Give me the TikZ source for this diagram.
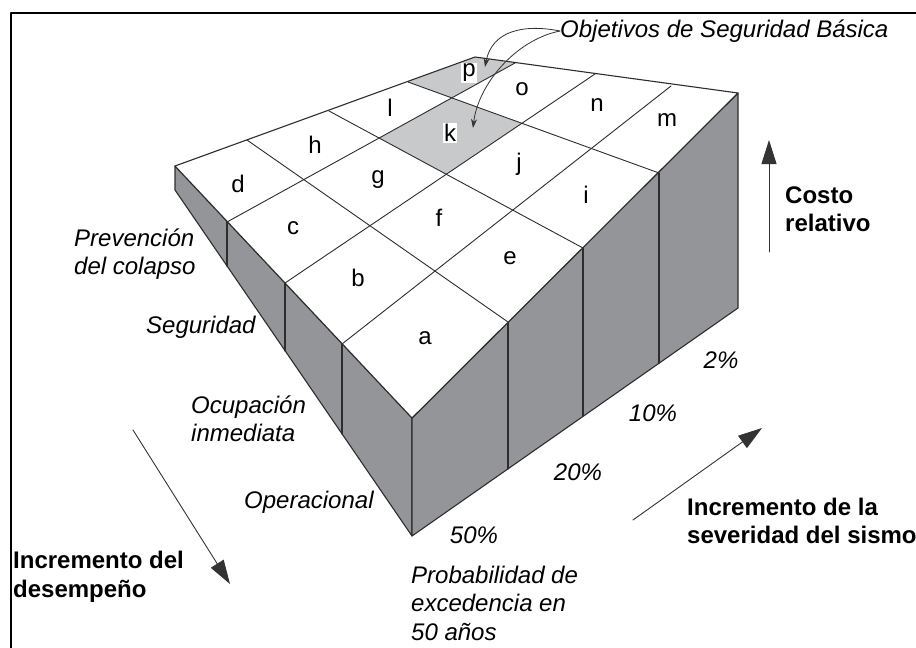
\documentclass[tikz,border=0pt]{standalone}
\usepackage{fontspec}
\setmainfont{Liberation Sans}
\usetikzlibrary{arrows.meta}
\definecolor{facegray}{RGB}{148,149,152}
\definecolor{cellgray}{RGB}{200,201,203}
\definecolor{edgegray}{RGB}{45,45,45}
\begin{document}
\begin{tikzpicture}[x=1pt, y=-1pt, line join=round, line cap=round, font=\fontsize{24}{28.5}\selectfont]
	\tikzset{
		edge/.style={draw=edgegray, line width=1.1pt},
		face/.style={edge, fill=facegray},
		cellname/.style={inner sep=1pt},
		level/.style={font=\fontsize{24}{28.5}\selectfont\itshape, inner sep=0pt, anchor=west, align=left},
		title/.style={font=\fontsize{24}{28.5}\selectfont\bfseries, inner sep=0pt, anchor=west, align=left},
		bigarrow/.style={draw=black!80, line width=0.9pt, -{Triangle[length=24pt, width=15pt]}},
		callout/.style={draw=black!80, line width=0.8pt, -{Stealth[length=9pt, width=6pt]}}
	}
	\useasboundingbox (0,0) rectangle (916,648);
	\draw [line width=2pt] (11,648)--(11,13)--(916,13);
	% corners of the slab
	\path (412,418) coordinate (F) (175,166) coordinate (L) (475,57) coordinate (B) (738,93) coordinate (R)
		(412,536) coordinate (F0) (175,190) coordinate (L0) (738,308) coordinate (R0);
	% divisions of the four edges
	\path (342,344) coordinate (FL1) (285,283) coordinate (FL2) (227,222) coordinate (FL3)
		(508,322) coordinate (FR1) (583,248) coordinate (FR2) (659,173) coordinate (FR3)
		(247,140) coordinate (LB1) (329,111) coordinate (LB2) (408,82) coordinate (LB3)
		(671,86) coordinate (RB1) (595,74) coordinate (RB2) (515,63) coordinate (RB3);
	\path (intersection of FL2--RB2 and FR2--LB2) coordinate (K1)
		(intersection of FL3--RB3 and FR2--LB2) coordinate (K2)
		(intersection of FL3--RB3 and FR3--LB3) coordinate (K3)
		(intersection of FL2--RB2 and FR3--LB3) coordinate (K4);
	% side faces
	\draw [face] (L)--(F)--(F0)--(L0)--cycle;
	\draw [face] (F)--(R)--(R0)--(F0)--cycle;
	\foreach \t/\b in {FL1/{342,434}, FL2/{285,351}, FL3/{227,266}, FR1/{508,469}, FR2/{583,416}, FR3/{659,363}}{
		\draw [edge] (\t)--(\b);
	}
	% top face
	\fill [white] (F)--(L)--(B)--(R)--cycle;
	\fill [cellgray] (K1)--(K2)--(K3)--(K4)--cycle;
	\fill [cellgray] (K3)--(LB3)--(B)--(RB3)--cycle;
	\foreach \i in {1,2,3}{
		\draw [edge, line width=0.9pt] (FL\i)--(RB\i);
		\draw [edge, line width=0.9pt] (FR\i)--(LB\i);
	}
	\draw [edge] (F)--(L)--(B)--(R)--cycle;
	\foreach \n/\p in {a/{425,338}, b/{358,278}, c/{293,228}, d/{238,184}, e/{510,258}, f/{439,218}, g/{378,180}, h/{315,145},
		i/{586,195}, j/{519,164}, l/{390,108}, m/{667,120}, n/{597,105}, o/{522,89}}{
		\node [cellname] (\n) at (\p) {\n};
	}
	\node [cellname, fill=white] (k) at (450,133) {k};
	\node [cellname, fill=white] (p) at (469,73) {p};
	% texts
	\node [level] (obj) at (560,31) {Objetivos de Seguridad Básica};
	\path (485,67) coordinate (ptip) (473,128) coordinate (ktip);
	\draw [callout] (obj.west) .. controls (525,24) and (492,30) .. (ptip);
	\draw [callout] (obj.west) .. controls (515,40) and (478,85) .. (ktip);
	\node [level] (prev) at (74,254) {Prevención\\del colapso};
	\node [level] (seg) at (146,327) {Seguridad};
	\node [level] (ocup) at (191,419) {Ocupación\\inmediata};
	\node [level] (oper) at (244,502) {Operacional};
	\foreach \n/\p/\t in {p50/{474,535}/50, p20/{578,472}/20, p10/{653,413}/10, p2/{721,360}/2}{
		\node [level, anchor=center] (\n) at (\p) {\t\%};
	}
	\node [level] (prob) at (411,603) {Probabilidad de\\excedencia en\\50 años};
	\node [title] (costo) at (785,209) {Costo\\relativo};
	\node [title] (sev) at (687,521) {Incremento de la\\severidad del sismo};
	\node [title] (des) at (13,577) {Incremento del\\desempeño};
	% arrows
	\path (769,252) coordinate (c0) (769,140) coordinate (c1)
		(633,520) coordinate (s0) (762,428) coordinate (s1)
		(133,430) coordinate (d0) (230,584) coordinate (d1);
	\draw [bigarrow] (c0)--(c1);
	\draw [bigarrow] (s0)--(s1);
	\draw [bigarrow] (d0)--(d1);
\end{tikzpicture}
\end{document}
